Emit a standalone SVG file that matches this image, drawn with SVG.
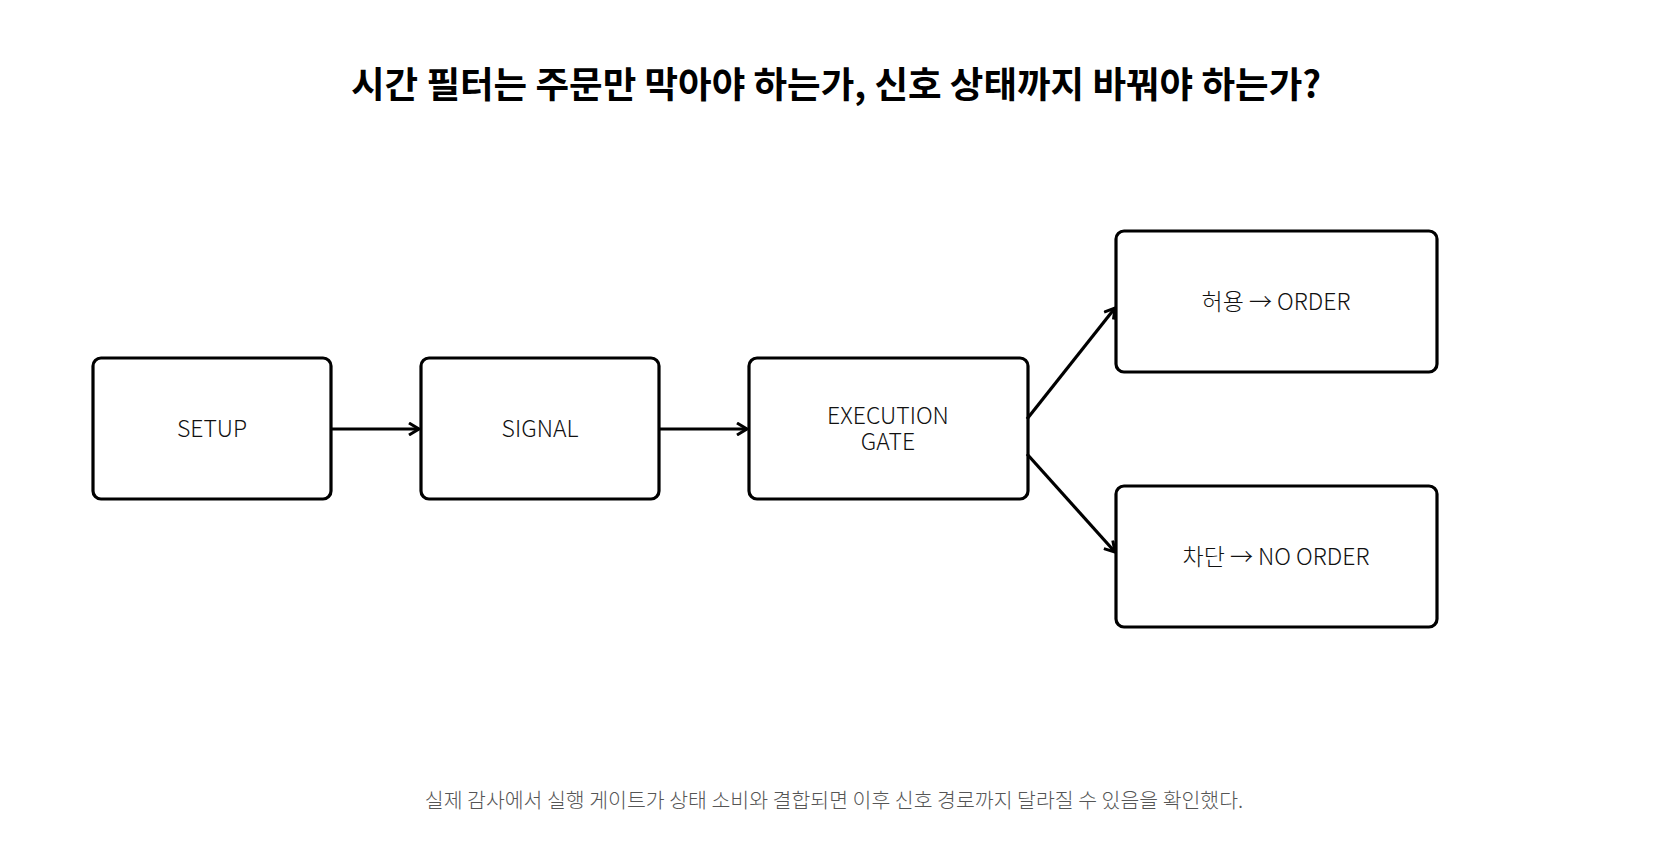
<svg xmlns="http://www.w3.org/2000/svg" width="1665" height="867" viewBox="0 0 1665 867">
<style>
.n{fill:#fff;stroke:#000;stroke-width:3.2}
.t{font-family:"Noto Sans CJK KR","Noto Sans",sans-serif;font-size:23px;font-weight:300;fill:#111;text-anchor:middle}
.c{stroke:#000;stroke-width:3.2;fill:none;marker-end:url(#a)}
</style>
<defs><marker id="a" markerWidth="14" markerHeight="14" refX="11" refY="7" orient="auto" markerUnits="userSpaceOnUse"><path d="M1,1 L11,7 L1,13" fill="none" stroke="#000" stroke-width="3"/></marker></defs>
<rect width="1665" height="867" fill="#fff"/>
<text x="836" y="98" font-family="Noto Sans CJK KR,sans-serif" font-size="36.5" font-weight="bold" text-anchor="middle">시간 필터는 주문만 막아야 하는가, 신호 상태까지 바꿔야 하는가?</text>
<g id="setup"><rect class="n" x="93" y="358" width="238" height="141" rx="8"/><text class="t" x="212" y="437">SETUP</text></g>
<g id="signal"><rect class="n" x="421" y="358" width="238" height="141" rx="8"/><text class="t" x="540" y="437">SIGNAL</text></g>
<g id="gate"><rect class="n" x="749" y="358" width="279" height="141" rx="8"/><text class="t" x="888" y="424">EXECUTION</text><text class="t" x="888" y="450">GATE</text></g>
<g id="allow"><rect class="n" x="1116" y="231" width="321" height="141" rx="8"/><text class="t" x="1276" y="310">허용 → ORDER</text></g>
<g id="block"><rect class="n" x="1116" y="486" width="321" height="141" rx="8"/><text class="t" x="1276" y="565">차단 → NO ORDER</text></g>
<g id="connectors">
<line class="c" x1="331" y1="429" x2="419" y2="429"/>
<line class="c" x1="659" y1="429" x2="747" y2="429"/>
<line class="c" x1="1027" y1="419" x2="1115" y2="308"/>
<line class="c" x1="1027" y1="454" x2="1115" y2="552"/>
</g>
<text x="834" y="808" font-family="Noto Sans CJK KR,sans-serif" font-size="20.5" font-weight="300" fill="#555" text-anchor="middle">실제 감사에서 실행 게이트가 상태 소비와 결합되면 이후 신호 경로까지 달라질 수 있음을 확인했다.</text>
</svg>
